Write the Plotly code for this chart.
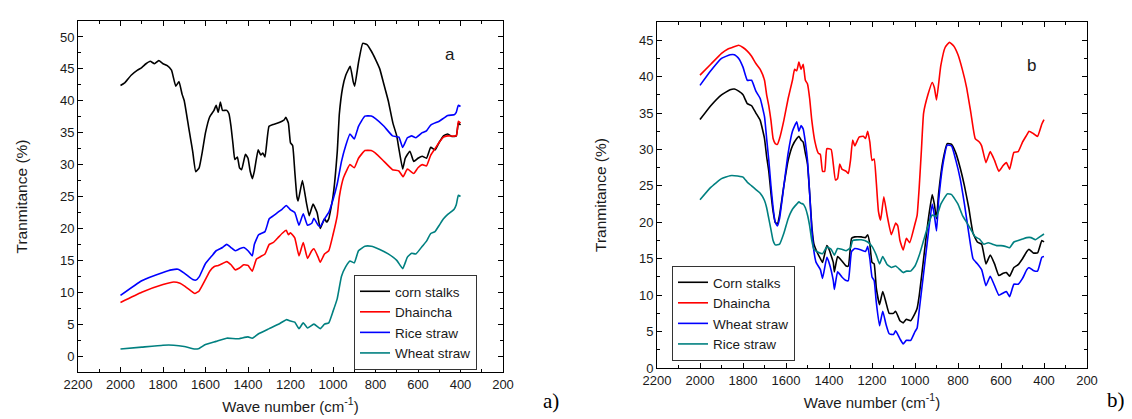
import plotly.graph_objects as go

# ---- panel a ----
a_corn_wn = [2000, 1980, 1950, 1920, 1900, 1880, 1860, 1840, 1820, 1800, 1780, 1760, 1740, 1725, 1710, 1700,
             1680, 1670, 1660, 1646, 1630, 1615, 1600, 1580, 1560, 1550, 1540, 1530, 1520, 1500, 1490, 1480,
             1470, 1462, 1450, 1440, 1430, 1412, 1400, 1390, 1379, 1370, 1352, 1340, 1330, 1320, 1301, 1280,
             1260, 1240, 1230, 1222, 1210, 1200, 1190, 1180, 1170, 1164, 1144, 1125, 1112, 1094, 1075, 1060,
             1040, 1030, 1020, 1000, 980, 970, 955, 940, 919, 905, 898, 880, 860, 840, 820, 800, 780, 760,
             740, 718, 700, 690, 672, 660, 638, 620, 600, 580, 560, 540, 520, 500, 480, 460, 440, 420, 410, 400]
a_corn = [42.4, 42.8, 44.0, 44.8, 45.2, 45.8, 46.2, 45.8, 46.3, 45.8, 45.5, 44.8, 42.3, 43.0, 41.0, 40.0,
          36.0, 34.0, 32.0, 28.9, 29.5, 32.0, 35.0, 37.5, 38.5, 39.3, 38.2, 39.8, 38.5, 38.5, 38.0, 36.0,
          33.0, 30.8, 31.2, 29.5, 29.2, 31.6, 31.0, 29.0, 27.8, 29.0, 32.3, 31.5, 31.8, 31.2, 36.0, 36.3,
          36.5, 36.8, 37.0, 37.4, 36.5, 33.4, 33.0, 29.0, 25.0, 24.3, 27.5, 24.0, 22.0, 23.8, 22.5, 20.0,
          21.5, 21.0, 21.5, 25.0, 32.0, 38.0, 42.0, 44.0, 45.4, 43.0, 42.3, 46.0, 49.0, 48.8, 47.8, 46.5,
          45.0, 42.5, 40.0, 36.5, 34.5, 32.5, 29.3, 31.0, 32.1, 30.5, 31.0, 31.3, 31.0, 32.7, 32.3, 33.5,
          34.5, 34.8, 34.4, 34.5, 36.5, 36.2]

a_dhain_wn = [2000, 1900, 1800, 1750, 1720, 1700, 1660, 1650, 1630, 1600, 1580, 1560, 1540, 1520, 1500, 1480,
              1460, 1440, 1420, 1400, 1380, 1360, 1340, 1320, 1300, 1280, 1260, 1240, 1220, 1210, 1200, 1180,
              1160, 1140, 1120, 1100, 1090, 1070, 1060, 1040, 1020, 1000, 980, 970, 950, 920, 900, 880, 850,
              820, 800, 760, 720, 690, 670, 650, 620, 600, 580, 560, 540, 520, 500, 480, 460, 420, 410, 400]
a_dhain = [8.4, 10.0, 11.2, 11.6, 11.4, 11.0, 10.0, 9.8, 10.2, 12.0, 13.3, 14.0, 14.2, 14.5, 14.8, 14.3,
           13.5, 13.8, 14.3, 14.2, 13.3, 15.2, 15.6, 16.0, 17.5, 17.8, 18.5, 19.2, 19.7, 19.0, 19.3, 18.5,
           15.7, 17.8, 15.3, 16.5, 16.8, 15.5, 14.7, 16.0, 16.5, 19.0, 22.0, 25.0, 28.0, 30.0, 29.5, 31.0, 32.2,
           32.2, 31.8, 30.5, 29.2, 29.0, 28.1, 29.3, 28.6, 29.5, 30.0, 29.8, 31.5, 32.5, 33.5, 34.3, 34.5,
           34.5, 36.8, 36.5]

a_rice_wn = [2000, 1900, 1800, 1760, 1730, 1700, 1660, 1645, 1630, 1600, 1570, 1550, 1520, 1500, 1480, 1460,
             1440, 1420, 1400, 1380, 1370, 1350, 1320, 1300, 1280, 1260, 1240, 1220, 1200, 1180, 1160, 1140,
             1120, 1100, 1090, 1070, 1060, 1040, 1020, 1000, 980, 960, 940, 920, 900, 880, 850, 820, 800, 760,
             720, 690, 672, 650, 630, 610, 580, 560, 540, 500, 460, 430, 420, 410, 400]
a_rice = [9.5, 11.8, 13.1, 13.5, 13.6, 13.0, 12.0, 11.9, 12.4, 14.5, 15.7, 16.5, 17.0, 17.5, 17.0, 16.5,
          16.8, 17.0, 16.5, 15.7, 17.5, 19.0, 19.5, 21.5, 22.0, 22.5, 23.0, 23.6, 22.9, 22.5, 20.5, 22.3,
          20.5, 20.8, 21.6, 20.5, 20.3, 21.5, 22.5, 24.5, 27.0, 30.5, 33.0, 34.8, 34.0, 36.0, 37.6, 37.6, 37.2,
          36.0, 34.5, 34.3, 32.7, 34.2, 34.5, 34.2, 35.0, 35.3, 36.2, 36.8, 37.7, 37.8, 38.2, 39.3, 39.1]

a_wheat_wn = [2000, 1900, 1800, 1750, 1700, 1650, 1630, 1600, 1550, 1500, 1450, 1400, 1380, 1350, 1300, 1250,
              1220, 1200, 1180, 1160, 1140, 1120, 1090, 1060, 1040, 1020, 1000, 980, 960, 940, 920, 900, 880,
              850, 820, 780, 740, 700, 672, 650, 630, 610, 580, 560, 540, 520, 500, 480, 460, 430, 420, 410, 400]
a_wheat = [1.1, 1.4, 1.7, 1.7, 1.5, 1.1, 1.2, 1.8, 2.3, 2.8, 2.7, 3.0, 2.8, 3.5, 4.3, 5.1,
           5.7, 5.5, 5.3, 4.3, 5.2, 4.4, 5.0, 4.3, 5.0, 5.2, 7.0, 9.0, 12.5, 14.0, 14.9, 14.6, 16.5,
           17.2, 17.2, 16.7, 16.0, 15.0, 13.7, 15.5, 16.1, 16.0, 17.2, 18.0, 19.2, 19.5, 20.5, 21.5, 22.2,
           23.0, 23.7, 25.2, 25.0]

# ---- panel b ----
b_dhain_wn = [2000, 1950, 1900, 1870, 1850, 1820, 1800, 1780, 1760, 1740, 1720, 1700, 1690, 1680, 1670, 1660,
              1650, 1640, 1630, 1610, 1590, 1570, 1560, 1550, 1540, 1530, 1520, 1510, 1500, 1490, 1480, 1465,
              1450, 1440, 1430, 1420, 1410, 1390, 1380, 1370, 1360, 1350, 1340, 1320, 1310, 1300, 1290, 1280,
              1260, 1240, 1230, 1220, 1210, 1200, 1190, 1180, 1170, 1160, 1145, 1130, 1110, 1090, 1080, 1070,
              1055, 1040, 1025, 1000, 990, 980, 970, 960, 940, 920, 910, 900, 880, 860, 840, 820, 800, 780,
              760, 740, 720, 700, 690, 670, 650, 630, 610, 590, 575, 560, 540, 520, 500, 480, 470, 450, 430,
              410, 400]
b_dhain = [40.2, 41.7, 43.2, 43.8, 44.0, 44.3, 44.0, 43.5, 42.8, 41.8, 41.0, 39.5, 37.5, 36.0, 34.0, 31.5,
           30.8, 30.7, 31.5, 34.0, 37.0, 39.5, 41.0, 40.8, 42.0, 41.0, 41.7, 39.5, 39.0, 37.0, 34.0, 31.0,
           29.5, 29.3, 27.0, 27.0, 30.1, 30.0, 28.0, 25.8, 26.0, 28.0, 27.3, 27.0, 26.7, 28.5, 31.3, 30.5,
           31.7, 31.8, 31.5, 32.5, 31.0, 28.5, 28.7, 25.5, 21.5, 20.3, 23.5, 21.0, 18.3, 19.9, 19.5, 17.5,
           16.2, 17.8, 17.2, 19.8, 21.0, 25.0, 30.0, 35.0, 37.5, 39.2, 38.5, 36.8, 41.5, 44.0, 44.7, 44.2,
           43.0, 41.0, 38.5, 35.0, 31.5, 31.0, 30.5, 28.2, 29.7, 28.5, 27.0, 27.8, 28.2, 27.3, 29.6, 29.7,
           31.0, 32.0, 32.5, 32.2, 31.8, 33.5, 34.1]

b_common_wn = [2000, 1950, 1900, 1860, 1840, 1820, 1800, 1780, 1760, 1740, 1720, 1700, 1690, 1680, 1670, 1660,
               1650, 1640, 1630, 1610, 1590, 1570, 1550, 1540, 1530, 1520, 1510, 1500, 1490, 1480, 1470, 1460,
               1440, 1430, 1410, 1400, 1380, 1375, 1360, 1340, 1320, 1310, 1295, 1280, 1250, 1230, 1220, 1210,
               1200, 1190, 1180, 1165, 1150, 1135, 1120, 1100, 1090, 1070, 1055, 1040, 1020, 1000, 990, 980,
               960, 940, 920, 910, 900, 890, 870, 850, 830, 810, 790, 770, 750, 730, 710, 690, 670, 650, 630,
               610, 590, 575, 560, 540, 520, 500, 480, 470, 450, 430, 410, 400]
b_corn = [34.1, 36.0, 37.5, 38.2, 38.3, 38.0, 37.5, 36.3, 36.0, 35.0, 34.0, 31.5, 29.0, 27.0, 24.0, 21.5,
          20.0, 19.8, 21.0, 25.0, 28.5, 30.5, 31.5, 31.8, 31.3, 31.0, 29.5, 28.0, 24.0, 19.5, 17.0, 16.2,
          15.0, 14.5, 16.8, 16.3, 14.5, 13.2, 15.3, 14.7, 14.0, 14.0, 17.8, 18.0, 18.0, 17.9, 18.3, 17.0,
          14.5, 14.3, 11.0, 8.7, 10.5, 9.0, 7.5, 7.5, 7.8, 6.5, 6.2, 6.7, 6.5, 7.5, 8.2, 10.0,
          15.0, 20.0, 23.8, 22.5, 20.5, 24.0, 28.5, 30.8, 30.7, 29.5, 27.5, 25.0, 22.0, 18.5, 17.3, 17.0,
          14.3, 15.5, 14.3, 12.7, 13.0, 13.1, 12.6, 13.8, 14.2, 15.0, 16.0, 16.3, 15.8, 15.8, 17.5, 17.3]
b_wheat = [38.8, 40.8, 42.5, 43.0, 43.0, 42.5, 41.3, 39.5, 39.5, 38.0, 37.0, 34.5, 31.5, 28.5, 25.0, 22.0,
           20.0, 19.5, 20.5, 25.0, 29.5, 32.5, 33.8, 32.5, 33.3, 32.8, 31.0, 28.5, 24.0, 19.0, 16.0, 14.5,
           13.5, 12.3, 15.2, 14.5, 12.0, 10.8, 13.2, 12.5, 12.0, 12.0, 16.0, 16.4, 16.2, 16.0, 16.7, 15.0,
           12.5, 12.0, 9.0, 5.8, 7.8, 6.0, 4.7, 4.6, 5.1, 4.0, 3.3, 3.8, 3.8, 5.0, 5.5, 8.0,
           13.0, 18.0, 22.5, 21.0, 18.8, 23.0, 28.0, 30.6, 30.5, 28.5, 26.0, 22.5, 18.5, 15.0, 14.3, 13.5,
           11.3, 12.6, 11.3, 10.0, 10.3, 10.5, 9.8, 11.5, 11.5, 12.3, 13.5, 13.8, 13.4, 13.3, 15.2, 15.3]

b_rice_wn = [2000, 1950, 1900, 1860, 1840, 1800, 1780, 1760, 1740, 1720, 1700, 1690, 1680, 1670, 1660, 1650,
             1630, 1610, 1590, 1570, 1550, 1540, 1530, 1520, 1510, 1500, 1490, 1480, 1470, 1450, 1430, 1410,
             1390, 1375, 1360, 1340, 1320, 1300, 1290, 1250, 1220, 1200, 1180, 1165, 1150, 1130, 1110, 1090,
             1070, 1055, 1040, 1020, 1000, 980, 960, 940, 920, 900, 880, 850, 830, 800, 780, 760, 740, 720,
             700, 680, 660, 640, 620, 600, 580, 560, 540, 520, 500, 480, 460, 440, 420, 400]
b_rice = [23.1, 24.8, 26.0, 26.4, 26.4, 26.2, 25.5, 25.0, 24.5, 24.0, 23.0, 22.0, 20.5, 19.0, 17.5, 16.9,
          17.0, 18.5, 20.5, 21.8, 22.5, 22.8, 22.6, 22.5, 22.0, 21.0, 19.5, 17.5, 16.3, 15.9, 15.7, 16.6,
          16.3, 15.5, 16.4, 16.3, 16.1, 16.5, 17.5, 17.6, 17.3, 16.7, 15.5, 14.3, 15.3, 14.2, 13.8, 14.0,
          13.5, 13.1, 13.3, 13.3, 14.0, 15.5, 17.5, 19.5, 21.0, 20.8, 22.5, 23.9, 23.8, 22.5, 21.0, 20.0,
          19.0, 18.0, 17.7, 17.0, 17.2, 17.0, 16.8, 16.8, 16.7, 16.5, 17.3, 17.5, 17.7, 17.9, 17.9, 17.6,
          18.0, 18.4]

BLACK, RED, BLUE, TEAL = "#000000", "#ff0000", "#0000ff", "#008080"
FONT = "Liberation Sans, Arial, sans-serif"
SERIF = "Liberation Serif, Times New Roman, serif"
TXT = "#1a1a1a"

fig = go.Figure()


def add(x, y, name, color, xa, ya, legend):
    fig.add_trace(go.Scatter(x=x, y=y, name=name, mode="lines", xaxis=xa, yaxis=ya, legend=legend,
                             line=dict(color=color, width=1.6, shape="spline", smoothing=0.4)))


add(a_corn_wn, a_corn, "corn stalks", BLACK, "x", "y", "legend")
add(a_dhain_wn, a_dhain, "Dhaincha", RED, "x", "y", "legend")
add(a_rice_wn, a_rice, "Rice straw", BLUE, "x", "y", "legend")
add(a_wheat_wn, a_wheat, "Wheat straw", TEAL, "x", "y", "legend")

add(b_common_wn, b_corn, "Corn stalks", BLACK, "x2", "y2", "legend2")
add(b_dhain_wn, b_dhain, "Dhaincha", RED, "x2", "y2", "legend2")
add(b_common_wn, b_wheat, "Wheat straw", BLUE, "x2", "y2", "legend2")
add(b_rice_wn, b_rice, "Rice straw", TEAL, "x2", "y2", "legend2")

axis_style = dict(showline=True, linecolor="black", linewidth=1, mirror="ticks", ticks="inside",
                  ticklen=5, tickcolor="black", showgrid=False, zeroline=False, automargin=False,
                  tickfont=dict(size=13, color=TXT, family=FONT))
x_style = dict(axis_style, range=[2200, 200], dtick=200, tick0=0,
               minor=dict(ticks="inside", ticklen=3, dtick=100, tickcolor="black", showgrid=False),
               title=dict(text="Wave number (cm<sup>-1</sup>)", font=dict(size=15, family=FONT, color=TXT),
                          standoff=10))
y_minor = dict(ticks="inside", ticklen=3, dtick=2.5, tickcolor="black", showgrid=False)
y_title = dict(text="Tranmitance (%)", font=dict(size=15.5, family=FONT, color=TXT), standoff=28)

leg_style = dict(bordercolor="#333", borderwidth=1, bgcolor="white",
                 font=dict(size=13.5, family=FONT, color=TXT),
                 xanchor="left", yanchor="top", tracegroupgap=0, itemwidth=30)

fig.update_layout(
    width=1132, height=419,
    margin=dict(l=0, r=0, t=0, b=0, autoexpand=False),
    plot_bgcolor="white", paper_bgcolor="white",
    xaxis=dict(x_style, domain=[70 / 1132, 495 / 1132], anchor="y"),
    yaxis=dict(axis_style, range=[-2.5, 52.5], dtick=5, tick0=0, domain=[55 / 419, 406 / 419], anchor="x",
               minor=y_minor, title=y_title),
    xaxis2=dict(x_style, domain=[649 / 1132, 1079 / 1132], anchor="y2"),
    yaxis2=dict(axis_style, range=[0, 47.5], dtick=5, tick0=0, domain=[59 / 419, 405 / 419], anchor="x2",
                minor=y_minor, title=y_title),
    legend=dict(leg_style, x=346 / 1132, y=(419 - 267) / 419),
    legend2=dict(leg_style, x=664 / 1132, y=(419 - 258) / 419),
    annotations=[
        dict(text="a", x=448, y=47.2, xref="x", yref="y", showarrow=False,
             font=dict(size=17, family=FONT, color=TXT)),
        dict(text="b", x=456, y=41.5, xref="x2", yref="y2", showarrow=False,
             font=dict(size=17, family=FONT, color=TXT)),
        dict(text="a)", x=543 / 1132, y=(419 - 407) / 419, xref="paper", yref="paper", showarrow=False,
             font=dict(size=21, family=SERIF, color="black")),
        dict(text="b)", x=1119 / 1132, y=(419 - 406) / 419, xref="paper", yref="paper", showarrow=False,
             font=dict(size=21, family=SERIF, color="black")),
    ],
)

fig.write_html("out.html")
